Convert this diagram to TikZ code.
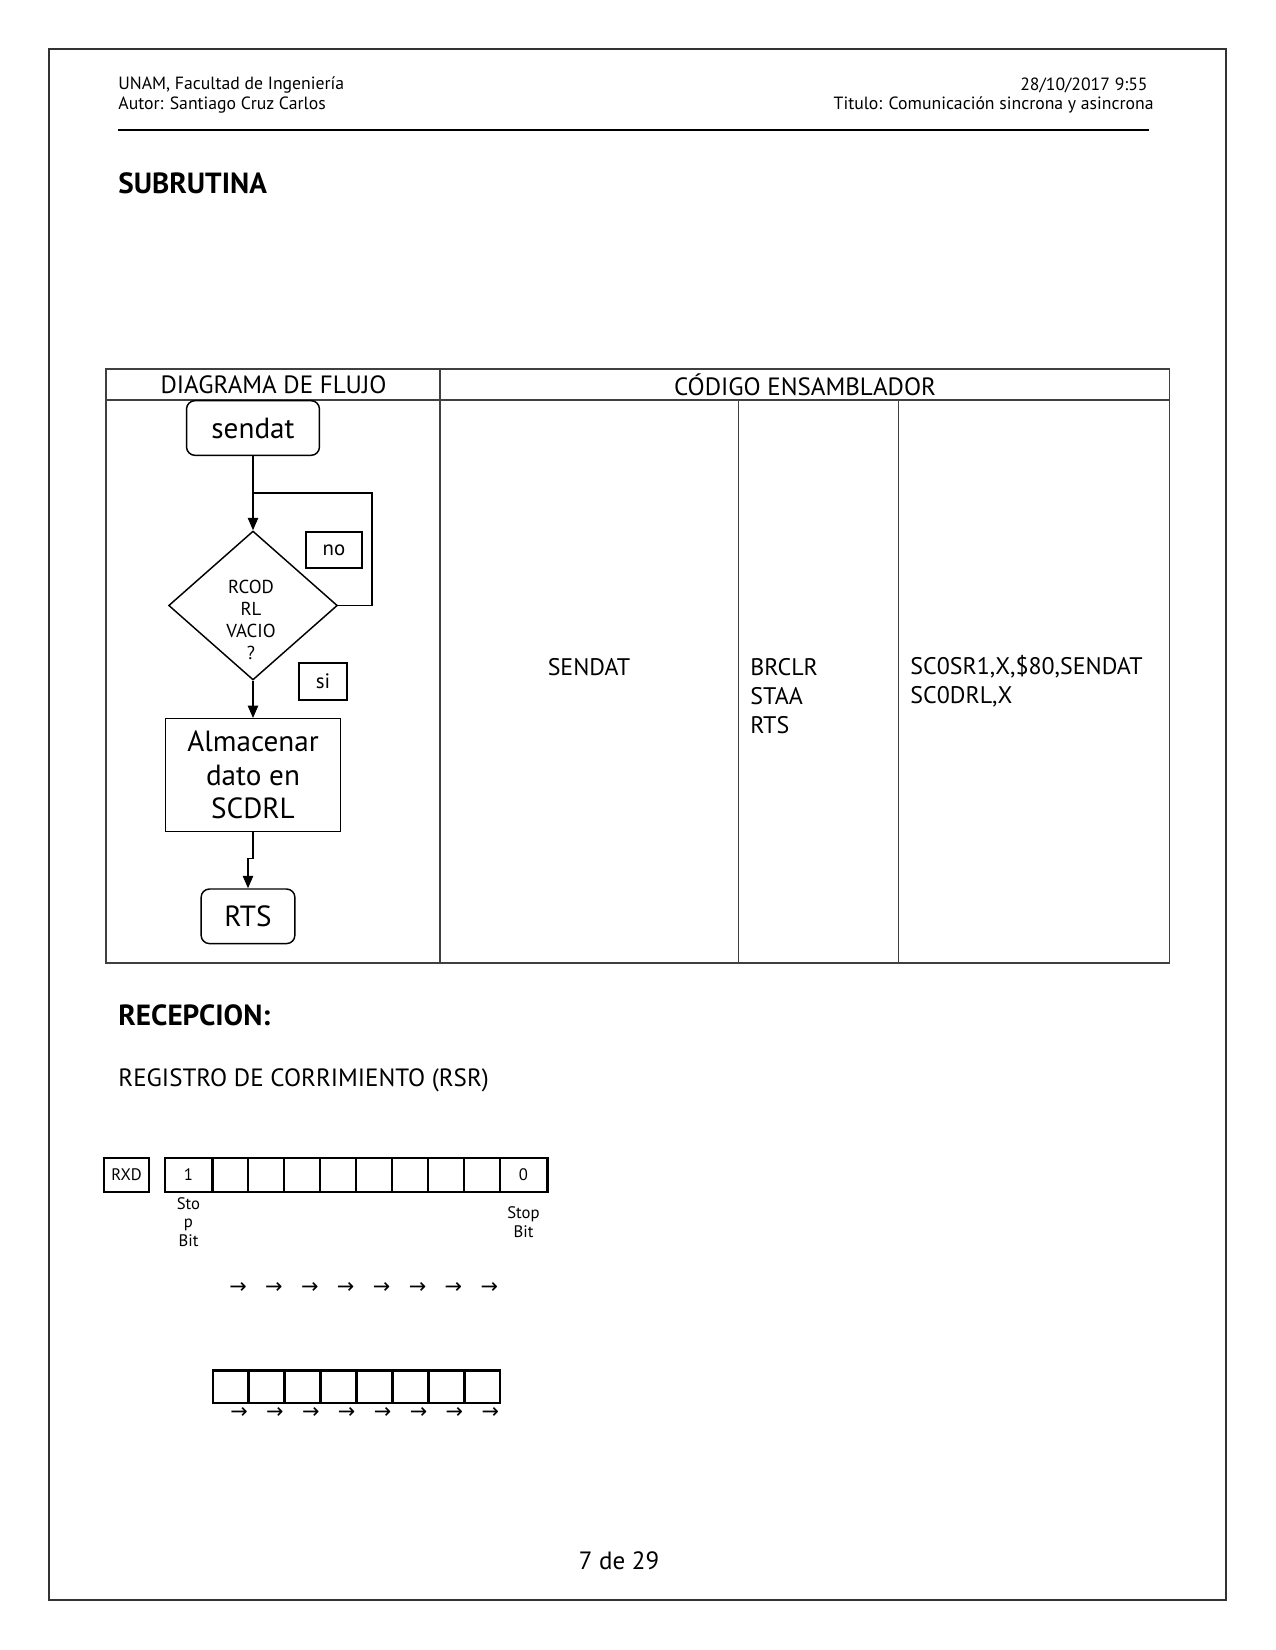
\documentclass[tikz,border=0pt]{standalone}
\usepackage{fontspec}
\setmainfont{PT Sans}
\newfontfamily\symfont{DejaVu Sans}
\usetikzlibrary{shapes.geometric,arrows.meta}

\begin{document}
\begin{tikzpicture}[
    x=0.48pt, y=-0.48pt,
    hdr/.style={inner sep=0pt, font=\fontsize{8.5}{9.6}\selectfont},
    title/.style={anchor=west, inner sep=0pt, font=\fontsize{14}{16}\selectfont\bfseries},
    plain/.style={inner sep=0pt, font=\fontsize{11.5}{13.9}\selectfont},
    term/.style={rectangle, draw=black, rounded corners=4pt, line width=0.7pt, inner sep=0pt, minimum height=26.2pt, font=\fontsize{14}{16}\selectfont},
    decision/.style={diamond, draw=black, line width=0.7pt, inner sep=0pt, minimum width=81pt, minimum height=71.5pt},
    process/.style={rectangle, draw=black, line width=0.7pt, align=center, minimum width=84pt, minimum height=54pt, inner sep=0pt, font=\fontsize{14}{16.2}\selectfont},
    tag/.style={rectangle, draw=black, line width=0.7pt, inner sep=0pt, font=\fontsize{10}{12}\selectfont},
    arrow/.style={-{Triangle[length=6pt,width=5pt]}, line width=0.7pt},
    link/.style={line width=0.7pt},
    tablerule/.style={draw=black!75, line width=0.5pt},
    cell/.style={rectangle, draw=black, line width=1.4pt, minimum height=16.3pt, inner sep=0pt, font=\fontsize{8}{9}\selectfont},
    small/.style={inner sep=0pt, align=center, font=\fontsize{8}{9}\selectfont},
    sarrow/.style={inner sep=0pt, font=\symfont\fontsize{10}{11}\selectfont},
]
\useasboundingbox (0,0) rectangle (1275,1650);
\draw[black!80, line width=0.6pt] (49,49) rectangle (1226,1600);

\node[hdr, anchor=west] (inst) at (118,85) {UNAM, Facultad de Ingeniería};
\node[hdr, anchor=west] (autor) at (118,105) {Autor: Santiago Cruz Carlos};
\node[hdr, anchor=east] (fecha) at (1148,85) {28/10/2017 9:55};
\node[hdr, anchor=east] (tema) at (1154,105) {Titulo: Comunicación sincrona y asincrona};
\draw[line width=1.2pt] (118,130) -- (1149,130);

\node[title] (subr) at (118,183) {SUBRUTINA};

\draw[tablerule] (106,369) rectangle (1169,963);
\draw[tablerule] (106,400) -- (1169,400);
\draw[tablerule] (440,369) -- (440,963);
\draw[tablerule] (738.5,400) -- (738.5,963);
\draw[tablerule] (898.5,400) -- (898.5,963);
\node[plain, font=\fontsize{12}{14}\selectfont] (hflujo) at (273.5,385) {DIAGRAMA DE FLUJO};
\node[plain, font=\fontsize{12}{14}\selectfont] (hcod) at (805,385) {CÓDIGO ENSAMBLADOR};
\node[plain] (etiq) at (589,667) {SENDAT};
\node[plain, anchor=west, align=left] (mnem) at (750,696) {BRCLR\\STAA\\RTS};
\node[plain, anchor=west, align=left] (oper) at (910,681.5) {SC0SR1,X,\$80,SENDAT\\SC0DRL,X};

\node[term, minimum width=63.8pt] (start) at (253,428) {sendat};
\node[decision] (q) at (253,605.5) {};
\node[plain, align=center, font=\fontsize{9}{10.6}\selectfont] (qtxt) at (251,620) {RCOD\\RL\\VACIO\\?};
\node[tag, minimum width=27pt, minimum height=17.3pt] (no) at (334,550) {no};
\node[tag, minimum width=23pt, minimum height=17.8pt] (si) at (323,681.5) {si};
\node[process] (store) at (253,775) {Almacenar\\dato en\\SCDRL};
\node[term, minimum width=45pt] (rts) at (248,916.3) {RTS};
\coordinate (join) at (253,493);
\coordinate (loop) at (372,493);
\draw[arrow] (start) -- (q);
\draw[link] (q.east) -| (loop) -- (join);
\draw[arrow] (q) -- (store);
\draw[arrow] (store.south) -- ++(0,26.5) -| (rts.north);

\node[title] (recep) at (118,1015) {RECEPCION:};
\node[plain, anchor=west, font=\fontsize{12}{14}\selectfont] (rsr) at (118,1080) {REGISTRO DE CORRIMIENTO (RSR)};
\node[cell, minimum width=21.6pt] (rxd) at (126.5,1175) {RXD};
\node[cell, minimum width=22.6pt] (bit0) at (188.5,1175) {1};
\foreach \i in {1,...,8}
    \node[cell, minimum width=17.3pt] (r\i) at ({212+36*(\i-0.5)},1175) {};
\node[cell, minimum width=22.6pt] (bit9) at (523.5,1175) {0};
\node[small] (lbl0) at (188.5,1222) {Sto\\p\\Bit};
\node[small] (lbl9) at (523.5,1222) {Stop\\Bit};
\foreach \i in {1,...,8} {
    \node[sarrow] (ta\i) at ({238+35.9*(\i-1)},1288) {→};
    \node[cell, minimum width=17.2pt, minimum height=15.8pt] (b\i) at ({213+35.875*(\i-0.5)},1386.5) {};
    \node[sarrow] (ba\i) at ({239+35.9*(\i-1)},1413) {→};
}

\node[plain, font=\fontsize{12}{14}\selectfont] (pag) at (619,1561) {7 de 29};
\end{tikzpicture}
\end{document}
